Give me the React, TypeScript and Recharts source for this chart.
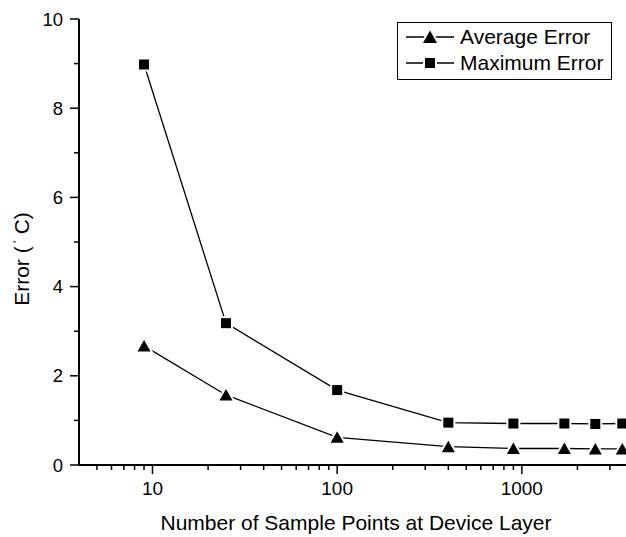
import { LineChart, Line, XAxis, YAxis, Legend } from 'recharts'

const SAMPLE_POINTS = [9, 25, 100, 400, 900, 1700, 2500, 3500]
const AVERAGE_ERROR = [2.67, 1.57, 0.62, 0.41, 0.37, 0.37, 0.36, 0.36]
const MAXIMUM_ERROR = [8.98, 3.18, 1.68, 0.95, 0.93, 0.93, 0.92, 0.93]

const X_TICKS = [
  5, 6, 7, 8, 9, 10, 20, 30, 40, 50, 60, 70, 80, 90, 100, 200, 300, 400, 500, 600, 700, 800, 900, 1000,
  2000, 3000,
]
const X_LABELS = [10, 100, 1000]
const Y_TICKS = [0, 1, 2, 3, 4, 5, 6, 7, 8, 9, 10]
const Y_LABELS = [0, 2, 4, 6, 8, 10]

const FONT = '"Liberation Sans", Arial, sans-serif'

const data = SAMPLE_POINTS.map((n, i) => ({
  n,
  avg: AVERAGE_ERROR[i],
  max: MAXIMUM_ERROR[i],
}))

function triPoints(cx: number, cy: number, w: number, h: number) {
  return `${cx},${cy - h / 2 - 0.5} ${cx - w / 2},${cy + h / 2} ${cx + w / 2},${cy + h / 2}`
}

function TriangleDot(props: any) {
  const { cx, cy } = props
  if (cx == null || cy == null) return <g />
  return (
    <g>
      <polygon points={triPoints(cx, cy, 13, 11)} fill="#fff" stroke="#fff" strokeWidth={4} />
      <polygon points={triPoints(cx, cy, 13, 11)} fill="#000" />
    </g>
  )
}

function SquareDot(props: any) {
  const { cx, cy } = props
  if (cx == null || cy == null) return <g />
  return (
    <g>
      <rect x={cx - 5} y={cy - 5} width={10} height={10} fill="#fff" stroke="#fff" strokeWidth={4} />
      <rect x={cx - 5} y={cy - 5} width={10} height={10} fill="#000" />
    </g>
  )
}

function XTick(props: any) {
  const { x, y, payload } = props
  const major = X_LABELS.includes(payload.value)
  return (
    <g>
      <line x1={x} x2={x} y1={y} y2={y + (major ? 9 : 5)} stroke="#000" strokeWidth={1.5} />
      {major && (
        <text x={x} y={y + 30} textAnchor="middle" fontSize={19} fontFamily={FONT} fill="#000">
          {payload.value}
        </text>
      )}
    </g>
  )
}

function YTick(props: any) {
  const { x, y, payload } = props
  const major = Y_LABELS.includes(payload.value)
  return (
    <g>
      <line x1={x - (major ? 9 : 5)} x2={x} y1={y} y2={y} stroke="#000" strokeWidth={1.5} />
      {major && (
        <text x={x - 16} y={y + 6.5} textAnchor="end" fontSize={18.5} fontFamily={FONT} fill="#000">
          {payload.value}
        </text>
      )}
    </g>
  )
}

function LegendBox(props: any) {
  const { payload = [] } = props
  return (
    <div
      style={{
        position: 'relative',
        width: 215,
        height: 58,
        boxSizing: 'border-box',
        border: '1.5px solid #000',
        background: '#fff',
        fontFamily: FONT,
        fontSize: 21,
        color: '#000',
      }}
    >
      {payload.map((entry: any, i: number) => (
        <div
          key={entry.value}
          style={{ position: 'absolute', left: 7, top: 1 + i * 26, height: 26, display: 'flex', alignItems: 'center' }}
        >
          <svg width={50} height={26} style={{ display: 'block' }}>
            <line x1={1} x2={49} y1={13} y2={13} stroke="#000" strokeWidth={1.3} />
            {entry.dataKey === 'avg' ? (
              <>
                <polygon points={triPoints(25, 13, 14, 12)} fill="#fff" stroke="#fff" strokeWidth={4} />
                <polygon points={triPoints(25, 13, 14, 12)} fill="#000" />
              </>
            ) : (
              <>
                <rect x={20} y={8} width={10} height={10} fill="#fff" stroke="#fff" strokeWidth={4} />
                <rect x={20} y={8} width={10} height={10} fill="#000" />
              </>
            )}
          </svg>
          <span style={{ marginLeft: 5, lineHeight: '26px', whiteSpace: 'nowrap' }}>{entry.value}</span>
        </div>
      ))}
    </div>
  )
}

export default function App() {
  return (
    <div
      style={{
        position: 'absolute',
        left: 0,
        top: 0,
        width: 626,
        height: 537,
        overflow: 'hidden',
        background: '#fff',
      }}
    >
      <LineChart width={633} height={537} data={data} margin={{ top: 19, right: 0, bottom: 0, left: 0 }}>
        <XAxis
          dataKey="n"
          type="number"
          scale="log"
          domain={[4, 4000]}
          allowDataOverflow
          ticks={X_TICKS}
          interval={0}
          height={72}
          tickSize={0}
          tickMargin={0}
          tick={<XTick />}
          axisLine={{ stroke: '#000', strokeWidth: 2 }}
          label={{
            content: () => (
              <text x={356} y={530} textAnchor="middle" fontSize={21} fontFamily={FONT} fill="#000">
                Number of Sample Points at Device Layer
              </text>
            ),
          }}
        />
        <YAxis
          type="number"
          domain={[0, 10]}
          ticks={Y_TICKS}
          interval={0}
          width={79}
          tickSize={0}
          tickMargin={0}
          tick={<YTick />}
          axisLine={{ stroke: '#000', strokeWidth: 2 }}
          label={{
            content: () => (
              <text
                x={29}
                y={259}
                transform="rotate(-90, 29, 259)"
                textAnchor="middle"
                fontSize={21}
                fontFamily={FONT}
                fill="#000"
              >
                Error (
                <tspan fontSize={9} dy={-9}>
                  {' '}°
                </tspan>
                <tspan dy={9}> C)</tspan>
              </text>
            ),
          }}
        />
        <Legend
          layout="vertical"
          align="center"
          verticalAlign="middle"
          wrapperStyle={{ left: 397, top: 22, width: 215, right: 'auto', bottom: 'auto' }}
          content={<LegendBox />}
        />
        <Line
          dataKey="avg"
          name="Average Error"
          type="linear"
          stroke="#000"
          strokeWidth={1.3}
          dot={(p: any) => <TriangleDot key={`a${p.index}`} {...p} />}
          activeDot={false}
          isAnimationActive={false}
        />
        <Line
          dataKey="max"
          name="Maximum Error"
          type="linear"
          stroke="#000"
          strokeWidth={1.3}
          dot={(p: any) => <SquareDot key={`m${p.index}`} {...p} />}
          activeDot={false}
          isAnimationActive={false}
        />
      </LineChart>
    </div>
  )
}
